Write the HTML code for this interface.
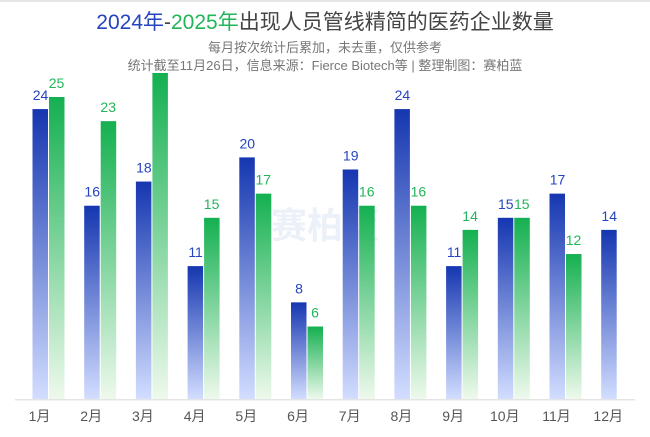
<!DOCTYPE html>
<html><head><meta charset="utf-8"><style>
html,body{margin:0;padding:0;background:#fff;}
svg{display:block;font-family:"Liberation Sans","Noto Sans CJK SC",sans-serif;}
</style></head><body>
<svg width="650" height="437" viewBox="0 0 650 437">
<defs>
<linearGradient id="b" x1="0" y1="0" x2="0" y2="1"><stop offset="0" stop-color="#1536b0"/><stop offset="1" stop-color="#d2ddff"/></linearGradient>
<linearGradient id="g" x1="0" y1="0" x2="0" y2="1"><stop offset="0" stop-color="#14b050"/><stop offset="1" stop-color="#eef9ec"/></linearGradient>
</defs>
<rect x="0" y="0" width="650" height="2" fill="#e6e6e6"/>
<text x="325" y="29" text-anchor="middle" font-size="21" fill="#444"><tspan fill="#2444c0">2024年</tspan>-<tspan fill="#22b55a">2025年</tspan>出现人员管线精简的医药企业数量</text>
<text x="325" y="52" text-anchor="middle" font-size="13" fill="#777">每月按次统计后累加，未去重，仅供参考</text>
<text x="325" y="70" text-anchor="middle" font-size="13" fill="#777">统计截至11月26日，信息来源：Fierce Biotech等 | 整理制图：赛柏蓝</text>
<text x="325" y="238" text-anchor="middle" font-size="36" font-weight="bold" fill="#c8d6f0" opacity="0.35">赛柏蓝</text>
<rect x="15" y="399" width="620" height="1.5" fill="#e4e4e4"/>
<g id="bars"></g>
</svg>
<script>
var B=[24,16,18,11,20,8,19,24,11,15,17,14],G=[25,23,33,15,17,6,16,16,14,15,12,null];
var s='',base=399,k=12.08;
for(var i=0;i<12;i++){var c=48.5+51.7*i;
var h=B[i]*k;s+='<rect x="'+(c-16)+'" y="'+(base-h)+'" width="15.5" height="'+h+'" fill="url(#b)"/>';
s+='<text x="'+(c-8)+'" y="'+(base-h-9)+'" text-anchor="middle" font-size="14" fill="#2444c0">'+B[i]+'</text>';
if(G[i]!=null){var gh=G[i]*k;if(G[i]>30)gh=base-73;
s+='<rect x="'+(c+0.5)+'" y="'+(base-gh)+'" width="15.5" height="'+gh+'" fill="url(#g)"/>';
if(G[i]<30)s+='<text x="'+(c+8)+'" y="'+(base-gh-9)+'" text-anchor="middle" font-size="14" fill="#22b55a">'+G[i]+'</text>';}
s+='<text x="'+(c-9)+'" y="421" text-anchor="middle" font-size="14" fill="#555">'+(i+1)+'月</text>';}
document.getElementById('bars').innerHTML=s;
</script>
</body></html>
